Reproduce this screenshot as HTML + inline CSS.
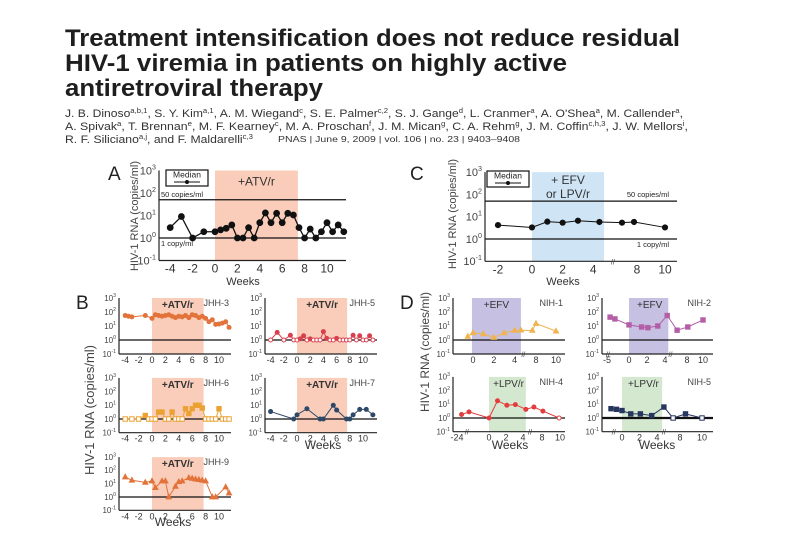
<!DOCTYPE html>
<html><head><meta charset="utf-8">
<style>
html,body{margin:0;padding:0;background:#fff;}
svg{display:block;font-family:"Liberation Sans",sans-serif;}
</style></head>
<body>
<svg id="fig" width="810" height="540" viewBox="0 0 810 540">
<g fill="#1e1e1e" font-weight="bold" font-size="24">
<text x="65" y="46" textLength="615" lengthAdjust="spacingAndGlyphs">Treatment intensification does not reduce residual</text>
<text x="65" y="71" textLength="502" lengthAdjust="spacingAndGlyphs">HIV-1 viremia in patients on highly active</text>
<text x="65" y="96" textLength="258" lengthAdjust="spacingAndGlyphs">antiretroviral therapy</text>
</g>
<g fill="#333" font-size="11">
<text x="65" y="117" textLength="618" lengthAdjust="spacingAndGlyphs">J. B. Dinoso<tspan font-size="7" dy="-4">a,b,1</tspan><tspan dy="4">, S. Y. Kim</tspan><tspan font-size="7" dy="-4">a,1</tspan><tspan dy="4">, A. M. Wiegand</tspan><tspan font-size="7" dy="-4">c</tspan><tspan dy="4">, S. E. Palmer</tspan><tspan font-size="7" dy="-4">c,2</tspan><tspan dy="4">, S. J. Gange</tspan><tspan font-size="7" dy="-4">d</tspan><tspan dy="4">, L. Cranmer</tspan><tspan font-size="7" dy="-4">a</tspan><tspan dy="4">, A. O'Shea</tspan><tspan font-size="7" dy="-4">a</tspan><tspan dy="4">, M. Callender</tspan><tspan font-size="7" dy="-4">a</tspan><tspan dy="4">,</tspan></text>
<text x="65" y="130" textLength="623" lengthAdjust="spacingAndGlyphs">A. Spivak<tspan font-size="7" dy="-4">a</tspan><tspan dy="4">, T. Brennan</tspan><tspan font-size="7" dy="-4">e</tspan><tspan dy="4">, M. F. Kearney</tspan><tspan font-size="7" dy="-4">c</tspan><tspan dy="4">, M. A. Proschan</tspan><tspan font-size="7" dy="-4">f</tspan><tspan dy="4">, J. M. Mican</tspan><tspan font-size="7" dy="-4">g</tspan><tspan dy="4">, C. A. Rehm</tspan><tspan font-size="7" dy="-4">g</tspan><tspan dy="4">, J. M. Coffin</tspan><tspan font-size="7" dy="-4">c,h,3</tspan><tspan dy="4">, J. W. Mellors</tspan><tspan font-size="7" dy="-4">i</tspan><tspan dy="4">,</tspan></text>
<text x="65" y="143" textLength="188" lengthAdjust="spacingAndGlyphs">R. F. Siliciano<tspan font-size="7" dy="-4">a,j</tspan><tspan dy="4">, and F. Maldarelli</tspan><tspan font-size="7" dy="-4">c,3</tspan></text>
<text x="278" y="142" font-size="8" textLength="242" lengthAdjust="spacingAndGlyphs">PNAS   |   June 9, 2009   |   vol. 106   |   no. 23   |   9403–9408</text>
</g>
<g id="charts"></g>
</svg>
<script>
// ---- data ----
const A_weeks = [-4,-3,-2,-1,0,0.5,1,1.5,2,2.5,3,3.5,4,4.5,5,5.5,6,6.5,7,7.5,8,8.5,9,9.5,10,10.5,11,11.5];
const A_copies = [2.9,9,1,1.9,1.9,2.3,2.7,3.8,1,1,2.9,1,4.8,13,4.8,12.5,4.8,12.5,10.5,2.9,1,2.5,1,1.9,4.8,1.9,3.8,1.9];
const C_weeks = [-2,0,1,2,3,4.4,6.5,7.7,10];
const C_copies = [4.2,3.3,6,5.4,6.6,5.8,5.4,5.8,3.3];
const JHH3_weeks = [-4,-3.5,-3,-1,0,0.5,1,1.5,2,2.5,3,3.5,4,4.5,5,5.5,6,6.5,7,7.5,8,8.5,9,9.5,10,10.5,11,11.5];
const JHH3_copies = [56,50,45,56,35,63,56,50,56,63,50,40,50,45,56,40,63,56,40,50,35,20,28,13,14,16,20,8];
const JHH5_weeks = [-4,-3,-2,-1,-0.5,0,0.5,1,1.5,2,2.5,3,3.5,4,4.5,5,5.5,6,6.5,7,7.5,8,8.5,9,9.5,10,10.5,11,11.5];
const JHH5_copies = [1,3.5,1,2.2,1,1,1.2,2,1,1.2,1,1,1,4,1.3,1,1,1.3,1,1,1,1,2.2,1,2,1,1,2,1];
const JHH6_weeks = [-4,-3,-2,-1,-0.5,0,0.5,1,1.5,2,2.5,3,3.5,4,4.5,5,5.5,6,6.5,7,7.5,8,8.5,9,9.5,10,10.5,11,11.5];
const JHH6_copies = [1,1,1,1.8,1,1,1,3.2,3.2,1,1,3.2,1,1,1,5.6,2.5,5.6,10,10,6.3,1,1,1,1,5.6,1,1,1];
const JHH7_weeks = [-4,-0.5,0,1.5,3.5,4,5.5,6,7.5,8,8.5,9.5,10.5,11.5];
const JHH7_copies = [3.5,1,2,5.6,1,1,10,4.5,1,1,2,5,5,2];
const JHH9_weeks = [-4,-3,-1,0,0.5,1.5,2,2.5,3.5,4,4.5,5.5,6,6.5,7,7.5,8,9,9.5,11,11.5];
const JHH9_copies = [32,18,12.6,16,5,16,16,1,6.3,14,16,28,25,22,20,18,16,1,1,5.6,2];
const NIH1_weeks = [-0.5,0,1,2,3,4,4.6,7.1,8,10];
const NIH1_copies = [1.8,3.2,2.7,1.5,3.2,4.8,5,4.8,15,4.3];
const NIH2_weeks = [-4.3,-3.2,0,1.4,2.1,3.2,4.4,6.2,8.1,10];
const NIH2_copies = [43,32,12,8.5,7.6,10,56,5,8.5,27];
const NIH4_weeks = [-22.6,-20.3,0,1,2.1,3.1,4.6,6.3,8.1,9.9];
const NIH4_copies = [1.8,2.8,1,18,8.5,9.5,4.3,6.3,3.2,1];
const NIH5_weeks = [-2,-1,0,1,2.1,3.4,5.2,6.8,8.5,10];
const NIH5_copies = [4.8,4.3,3.5,2,2,1.5,6.3,1,2,1];
const yTickExps = [3,2,1,0,-1];
const B_xTicks = [-4,-2,0,2,4,6,8,10];
const A_xTicks = [-4,-2,0,2,4,6,8,10];
const C_xTicks = [-2,0,2,4,8,10];

const NS = "http://www.w3.org/2000/svg";
const root = document.getElementById('charts');
function mk(tag, attrs, parent, txt){
  const e = document.createElementNS(NS, tag);
  for (const k in attrs) e.setAttribute(k, attrs[k]);
  if (txt !== undefined) e.textContent = txt;
  (parent||root).appendChild(e);
  return e;
}
function pw(aw, ax){
  return w => {
    if (w <= aw[0]) return ax[0] + (w-aw[0])*(ax[1]-ax[0])/(aw[1]-aw[0]);
    for (let i=1;i<aw.length;i++) if (w <= aw[i]) return ax[i-1] + (w-aw[i-1])*(ax[i]-ax[i-1])/(aw[i]-aw[i-1]);
    const n=aw.length-1; return ax[n] + (w-aw[n])*(ax[n]-ax[n-1])/(aw[n]-aw[n-1]);
  };
}
function logY(y0, dec){ return v => y0 - Math.log10(v)*dec; }

function panel(p){
  const g = mk('g', {});
  
  
  const xs = p.xs, ys = p.ys;
  const top = ys(1000), bot = ys(0.1);
  const sh = mk('rect', {x: xs(p.shade[0]), y: top, width: xs(p.shade[1]) - xs(p.shade[0]), height: bot-top, fill: p.shadeColor}, g);
  
  
  if (p.shadeText) p.shadeText.forEach((t,i)=>{
    const e = mk('text', {x: xs((p.shade[0]+p.shade[1])/2), y: top + p.stY + i*14, 'text-anchor':'middle', 'font-size': p.stSize, fill: p.stColor, 'font-weight': p.stBold?'bold':'normal'}, g, t);
    
    
  });
  p.refs.forEach(r=>{
    const l = mk('line', {x1: p.x0, x2: p.x1, y1: ys(r), y2: ys(r), stroke: '#111', 'stroke-width': p.refW||1.2}, g);
    
    
  });
  const ya = mk('line', {x1: p.x0, x2: p.x0, y1: top, y2: bot, stroke: '#222', 'stroke-width': 1.2}, g);
  
  
  const xa = mk('line', {x1: p.x0, x2: p.x1, y1: bot, y2: bot, stroke: '#222', 'stroke-width': 1.2}, g);
  
  
  yTickExps.forEach(e=>{
    const t = mk('text', {x: p.x0 - 3, y: ys(Math.pow(10,e)) + p.tf*0.35, 'text-anchor':'end', 'font-size': p.tf, fill: '#444'}, g);
    
    
    mk('tspan', {}, t, '10');
    mk('tspan', {'font-size': p.tf*0.65, dy: -p.tf*0.45}, t, String(e));
  });
  p.xTicks.forEach(w=>{
    const t = mk('text', {x: xs(w), y: bot + p.tf + (p.tdy||1), 'text-anchor':'middle', 'font-size': p.tf+1, fill: '#333'}, g, String(w));
    
    
  });
  (p.breaks||[]).forEach(bx=>{
    const t = mk('text', {x: xs(bx), y: bot+3, 'text-anchor':'middle', 'font-size': 7, fill: '#333'}, g, '//');
    
    
  });
  if (p.tag){
    const t = mk('text', {x: p.x1 - 2, y: top + 8, 'text-anchor':'end', 'font-size': 9, fill: '#444'}, g, p.tag);
    
    
  }
  if (p.weeks){
    const t = mk('text', {x: p.weeks[0], y: p.weeks[1], 'text-anchor':'middle', 'font-size': p.weeksSize||12, fill: '#333'}, g, 'Weeks');
    
    
  }
  const pts = p.weeksData.map((w,i)=>[xs(w), ys(p.copies[i])]);
  const line = mk('polyline', {points: pts.map(q=>q.join(',')).join(' '), fill:'none', stroke: p.color, 'stroke-width': p.lw||1}, g);
  
  
  pts.forEach((q,i)=>{
    const open = p.openAtOne && p.copies[i] <= 1 && (!p.openFrom || p.weeksData[i] >= p.openFrom);
    const fill = open ? '#fff' : p.color;
    const s = p.ms; let m;
    if (p.marker === 'square') m = mk('rect', {x: q[0]-s, y: q[1]-s, width: 2*s, height: 2*s, fill, stroke: p.color, 'stroke-width': 1}, g);
    else if (p.marker === 'tri') m = mk('polygon', {points: `${q[0]},${q[1]-s*1.2} ${q[0]-s*1.1},${q[1]+s*0.8} ${q[0]+s*1.1},${q[1]+s*0.8}`, fill, stroke: p.color, 'stroke-width': 1}, g);
    else m = mk('circle', {cx: q[0], cy: q[1], r: s, fill, stroke: p.color, 'stroke-width': 1}, g);
    
    
  });
}

panel({name:'panel-a-atv-median', x0:159, x1:346, xs: w=>215+w*11.2, ys: logY(238,22.5), shade:[0,7.4], shadeColor:'#f9cdb9',
  shadeText:['+ATV/r'], stY:15, stSize:12, stColor:'#333', refs:[50,1], tf:11, tdy:0, xTicks:A_xTicks,
  weeks:[243,285], weeksSize:11, weeksData:A_weeks, copies:A_copies, color:'#111', marker:'circle', ms:2.9, lw:1.3});
const xsC = pw([-2,0,4.7,8,10],[498,532,604,637,665]);
panel({name:'panel-c-efv-lpv-median', x0:485, x1:677, xs: xsC, ys: logY(239,22.3), shade:[0,4.7], shadeColor:'#cfe5f5',
  shadeText:['+ EFV','or LPV/r'], stY:12, stSize:12, stColor:'#333', refs:[50,1], tf:11, tdy:0, xTicks:C_xTicks, breaks:[5.6],
  weeks:[563,285], weeksSize:11, weeksData:C_weeks, copies:C_copies, color:'#111', marker:'circle', ms:2.6, lw:1});
const xsL = w=>152+w*6.7, xsR = w=>297+w*6.6;
const pink = '#f9cdb9';
panel({name:'panel-b-jhh-3', x0:119, x1:231, xs:xsL, ys:logY(340,14), shade:[0,7.7], shadeColor:pink, shadeText:['+ATV/r'], stY:10, stSize:10, stColor:'#333', stBold:true,
  refs:[1], tf:8, xTicks:B_xTicks, tag:'JHH-3', weeksData:JHH3_weeks, copies:JHH3_copies, color:'#e2733a', marker:'circle', ms:2});
panel({name:'panel-b-jhh-5', x0:265, x1:377, xs:xsR, ys:logY(340,14), shade:[0,7.6], shadeColor:pink, shadeText:['+ATV/r'], stY:10, stSize:10, stColor:'#333', stBold:true,
  refs:[1], tf:8, xTicks:B_xTicks, tag:'JHH-5', weeksData:JHH5_weeks, copies:JHH5_copies, color:'#d8404e', marker:'circle', ms:2, openAtOne:true});
panel({name:'panel-b-jhh-6', x0:119, x1:231, xs:xsL, ys:logY(419,13.7), shade:[0,7.7], shadeColor:pink, shadeText:['+ATV/r'], stY:10, stSize:10, stColor:'#333', stBold:true,
  refs:[1], tf:8, xTicks:B_xTicks, tag:'JHH-6', weeksData:JHH6_weeks, copies:JHH6_copies, color:'#eba232', marker:'square', ms:2.2, openAtOne:true, openFrom:0});
panel({name:'panel-b-jhh-7', x0:265, x1:377, xs:xsR, ys:logY(419,13.7), shade:[0,7.6], shadeColor:pink, shadeText:['+ATV/r'], stY:10, stSize:10, stColor:'#333', stBold:true,
  refs:[1], tf:8, xTicks:B_xTicks, tag:'JHH-7', weeks:[323,449], weeksData:JHH7_weeks, copies:JHH7_copies, color:'#2f4868', marker:'circle', ms:2});
panel({name:'panel-b-jhh-9', x0:119, x1:231, xs:xsL, ys:logY(497,13.3), shade:[0,7.7], shadeColor:pink, shadeText:['+ATV/r'], stY:10, stSize:10, stColor:'#333', stBold:true,
  refs:[1], tf:8, xTicks:B_xTicks, tag:'JHH-9', weeks:[173,526], weeksData:JHH9_weeks, copies:JHH9_copies, color:'#e2733a', marker:'tri', ms:2.3});
const purple = '#c6c0e2', green = '#d4e8d0';
panel({name:'panel-d-nih-1', x0:453, x1:565, xs:pw([0,4.8,8,10],[473,523,536,556]), ys:logY(340,14), shade:[-0.1,4.6], shadeColor:purple, shadeText:['+EFV'], stY:10, stSize:10, stColor:'#333',
  refs:[1], tf:8, xTicks:[0,2,4,8,10], breaks:[4.9], tag:'NIH-1', weeksData:NIH1_weeks, copies:NIH1_copies, color:'#f0b34e', marker:'tri', ms:2.3});
panel({name:'panel-d-nih-2', x0:602, x1:713, xs:pw([-5,0,4,8,10],[607,629,665,687,703]), ys:logY(340,14), shade:[0,4.6], shadeColor:purple, shadeText:['+EFV'], stY:10, stSize:10, stColor:'#333',
  refs:[1], tf:8, xTicks:[-5,0,2,4,8,10], breaks:[-4.8,5], tag:'NIH-2', weeksData:NIH2_weeks, copies:NIH2_copies, color:'#b45ea8', marker:'square', ms:2.2});
panel({name:'panel-d-nih-4', x0:453, x1:565, xs:pw([-24,-20,0,4,8,10],[457,470,489,523,542,560]), ys:logY(418,13.7), shade:[0,4.6], shadeColor:green, shadeText:['+LPV/r'], stY:10, stSize:10, stColor:'#333',
  refs:[1], tf:8, xTicks:[-24,0,2,4,8,10], breaks:[-21,5.5], tag:'NIH-4', weeks:[510,449], weeksData:NIH4_weeks, copies:NIH4_copies, color:'#e23d3d', marker:'circle', ms:2, openAtOne:true, openFrom:5});
panel({name:'panel-d-nih-5', x0:602, x1:713, xs:pw([-2,0,4,8,10],[611,622,657,680,702]), ys:logY(418,13.7), shade:[0,4.9], shadeColor:green, shadeText:['+LPV/r'], stY:10, stSize:10, stColor:'#333',
  refs:[1], refW:2.2, tf:8, xTicks:[0,2,4,8,10], breaks:[-1.5,5.2], tag:'NIH-5', weeks:[657,449], weeksData:NIH5_weeks, copies:NIH5_copies, color:'#27365e', marker:'square', ms:2.2, openAtOne:true});

function txt(name, attrs, s){
  const t = mk('text', attrs, root, s);
  
  
  return t;
}
txt('panel-label-a', {x:108, y:180, 'font-size':19, fill:'#222'}, 'A');
txt('panel-label-c', {x:410, y:180, 'font-size':19, fill:'#222'}, 'C');
txt('panel-label-b', {x:76, y:309, 'font-size':19, fill:'#222'}, 'B');
txt('panel-label-d', {x:400, y:309, 'font-size':19, fill:'#222'}, 'D');
txt('y-axis-title-a', {x:0, y:0, 'font-size':11, fill:'#444', 'text-anchor':'middle', transform:'translate(138,216) rotate(-90)'}, 'HIV-1 RNA (copies/ml)');
txt('y-axis-title-c', {x:0, y:0, 'font-size':11, fill:'#444', 'text-anchor':'middle', transform:'translate(456,214) rotate(-90)'}, 'HIV-1 RNA (copies/ml)');
txt('y-axis-title-b', {x:0, y:0, 'font-size':13, fill:'#444', 'text-anchor':'middle', transform:'translate(94,410) rotate(-90)'}, 'HIV-1 RNA (copies/ml)');
txt('y-axis-title-d', {x:0, y:0, 'font-size':12, fill:'#444', 'text-anchor':'middle', transform:'translate(429,352) rotate(-90)'}, 'HIV-1 RNA (copies/ml)');
txt('ref-label-50-a', {x:161, y:197, 'font-size':7.5, fill:'#222'}, '50 copies/ml');
txt('ref-label-1-a', {x:161, y:246, 'font-size':7.5, fill:'#222'}, '1 copy/ml');
txt('ref-label-50-c', {x:669, y:197, 'font-size':7.5, fill:'#222', 'text-anchor':'end'}, '50 copies/ml');
txt('ref-label-1-c', {x:669, y:247, 'font-size':7.5, fill:'#222', 'text-anchor':'end'}, '1 copy/ml');
function legend(name, x, y, w){
  const g = mk('g', {});
  
  
  mk('rect', {x, y, width:w, height:16, fill:'#fff', stroke:'#111', 'stroke-width':1.2}, g);
  mk('text', {x:x+w/2, y:y+7.5, 'font-size':8.5, 'text-anchor':'middle', fill:'#222'}, g, 'Median');
  mk('line', {x1:x+8, x2:x+w-8, y1:y+12, y2:y+12, stroke:'#111'}, g);
  mk('circle', {cx:x+w/2, cy:y+12, r:2, fill:'#111'}, g);
}
legend('legend-median-a', 166, 170, 42);
legend('legend-median-c', 487, 171, 42);
</script>
</body></html>
